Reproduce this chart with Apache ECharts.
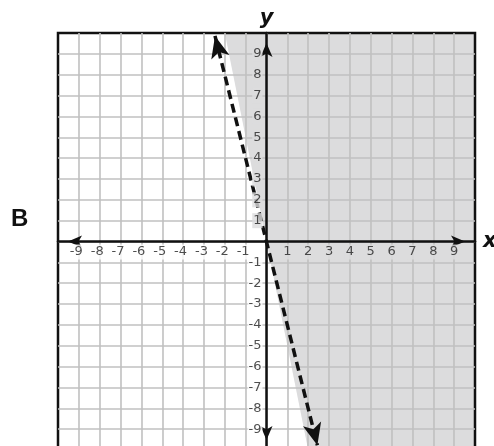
<!DOCTYPE html>
<html>
<head>
<meta charset="utf-8">
<script src="https://cdn.jsdelivr.net/npm/echarts@6/dist/echarts.min.js"></script>
<style>
  html, body { margin: 0; padding: 0; background: #fff; }
  #chart { width: 494px; height: 446px; }
</style>
</head>
<body>
<div id="chart"></div>
<script>
// axis range
const AXIS_MIN = -10
const AXIS_MAX = 10
// tick labels printed along the axes
const xTickValues = [-9, -8, -7, -6, -5, -4, -3, -2, -1, 1, 2, 3, 4, 5, 6, 7, 8, 9]
const yTickValues = [-9, -8, -7, -6, -5, -4, -3, -2, -1, 1, 2, 3, 4, 5, 6, 7, 8, 9]
// dashed boundary line y = -4x, arrow tips
const lineStart = [-2.47, 9.86]
const lineEnd = [2.44, -9.77]
// shaded half-plane corners
const shadeX = [-2, 10, 10, 2]
const shadeY = [10, 10, -10, -10]
const panelLabel = 'B'

const SHADE = '#dcdcdd'
const FONT = 'DejaVu Sans'
const TXT = '#222'

function axisOpt(name, nameGap) {
    return {
        type: 'value',
        min: AXIS_MIN,
        max: AXIS_MAX,
        interval: 1,
        name: name,
        nameGap: nameGap,
        nameLocation: 'end',
        nameTextStyle: { fontFamily: FONT, fontSize: 21, fontWeight: 'bold', fontStyle: 'italic', color: '#111' },
        axisLine: {
            onZero: true,
            symbol: ['arrow', 'arrow'],
            symbolSize: [9, 14],
            symbolOffset: [10, -10],
            lineStyle: { color: '#111', width: 2.5 }
        },
        axisTick: { show: false },
        axisLabel: { show: false },
        splitLine: {
            show: true,
            showMinLine: false,
            showMaxLine: false,
            lineStyle: { color: '#c0c0c0', width: 1.6 }
        }
    }
}

// tick label series: background follows the region the label sits in
function tickSeries(points, position, distance, richW) {
    return {
        type: 'scatter',
        symbolSize: 0,
        silent: true,
        z: 5,
        data: points,
        label: {
            show: true,
            position: position,
            distance: distance,
            formatter: p => {
                const v = p.value[0] !== 0 ? p.value[0] : p.value[1]
                return v > 0 ? `{g|${v}}` : `{w|${v}}`
            },
            rich: {
                g: { fontFamily: FONT, fontSize: 13, color: TXT, backgroundColor: SHADE, padding: [1, 1, 1, 1] },
                w: Object.assign({ fontFamily: FONT, fontSize: 13, color: TXT, backgroundColor: '#fff' }, richW)
            }
        }
    }
}

const chart = echarts.init(document.getElementById('chart'))

chart.setOption({
    animation: false,
    grid: {
        left: 58, right: 19, top: 33, bottom: -4,
        containLabel: false,
        outerBoundsMode: 'none',
        show: true,
        backgroundColor: 'transparent',
        borderColor: '#111',
        borderWidth: 2.5
    },
    xAxis: axisOpt('x', 8),
    yAxis: axisOpt('y', 4),
    graphic: [{
        type: 'text',
        left: 11,
        top: 207,
        style: { text: panelLabel, font: 'bold 24px "Liberation Sans"', fill: '#111' }
    }],
    series: [
        {
            // shaded region, kept under the grid lines
            type: 'custom',
            z: -1,
            silent: true,
            data: [0],
            renderItem: (params, api) => ({
                type: 'polygon',
                shape: { points: shadeX.map((x, i) => api.coord([x, shadeY[i]])) },
                style: { fill: SHADE }
            })
        },
        tickSeries(xTickValues.map(v => [v, 0]), 'bottom', 3, { padding: [1, 6, 1, 1] }),
        tickSeries(yTickValues.map(v => [0, v]), 'left', 4, { padding: [1, 1, 1, 1] }),
        {
            type: 'line',
            data: [],
            z: 10,
            markLine: {
                silent: true,
                symbol: ['arrow', 'arrow'],
                symbolSize: [14, 22],
                label: { show: false },
                lineStyle: { color: '#111', width: 3.5, type: [9, 5] },
                data: [[{ coord: lineStart }, { coord: lineEnd }]]
            }
        }
    ]
})
</script>
</body>
</html>
